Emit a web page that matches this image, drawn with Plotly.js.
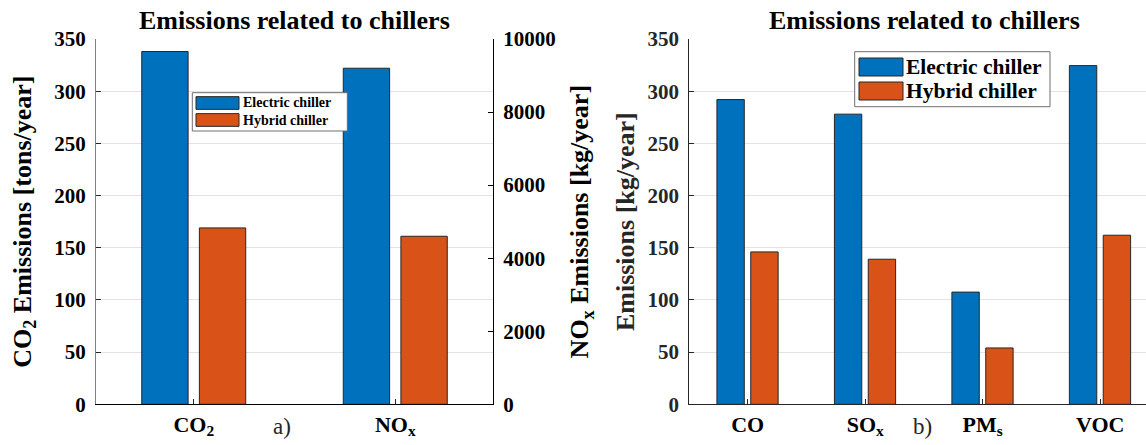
<!DOCTYPE html>
<html>
<head>
<meta charset="utf-8">
<script src="https://cdn.plot.ly/plotly-3.0.1.min.js"></script>
<style>html,body{margin:0;padding:0;background:#fff;}#chart{width:1146px;height:445px;}</style>
</head>
<body>
<div id="chart"></div>
<script>
// ---- data ----
const seriesNames = ['Electric chiller', 'Hybrid chiller'];
const seriesColors = ['#0072BD', '#D95319'];

// panel a): CO2 on left axis [tons/year], NOx on right axis [kg/year]
const categoriesA = ['CO<sub>2</sub>', 'NO<sub>x</sub>'];
const electricA = [338, 9200];
const hybridA = [169, 4600];

// panel b): [kg/year]
const categoriesB = ['CO', 'SO<sub>x</sub>', 'PM<sub>s</sub>', 'VOC'];
const electricB = [292, 278, 107.5, 324.5];
const hybridB = [146, 139, 54, 162];

const ticksLeftA = [0, 50, 100, 150, 200, 250, 300, 350];
const ticksRightA = [0, 2000, 4000, 6000, 8000, 10000];
const ticksB = [0, 50, 100, 150, 200, 250, 300, 350];

// ---- layout helpers ----
const W = 1146, H = 445;
const px = v => v / W;
const py = v => 1 - v / H;
const FONT = '"Liberation Serif", "Times New Roman", Times, serif';
const yTickFont = {family: FONT, size: 21, color: '#000', weight: 'bold'};
const xTickFont = {family: FONT, size: 22, color: '#000', weight: 'bold'};
const titleFont = {family: FONT, size: 26, color: '#000', weight: 'bold'};
const edge = {color: '#262626', width: 1};

const traces = [
  {type: 'bar', name: seriesNames[0], x: [categoriesA[0]], y: [electricA[0]], xaxis: 'x', yaxis: 'y',
   marker: {color: seriesColors[0], line: edge}, width: 0.23, offset: -0.258, showlegend: false},
  {type: 'bar', name: seriesNames[1], x: [categoriesA[0]], y: [hybridA[0]], xaxis: 'x', yaxis: 'y',
   marker: {color: seriesColors[1], line: edge}, width: 0.23, offset: 0.028, showlegend: false},
  {type: 'bar', name: seriesNames[0], x: [categoriesA[1]], y: [electricA[1]], xaxis: 'x', yaxis: 'y2',
   marker: {color: seriesColors[0], line: edge}, width: 0.23, offset: -0.258, showlegend: false},
  {type: 'bar', name: seriesNames[1], x: [categoriesA[1]], y: [hybridA[1]], xaxis: 'x', yaxis: 'y2',
   marker: {color: seriesColors[1], line: edge}, width: 0.23, offset: 0.028, showlegend: false},
  {type: 'bar', name: seriesNames[0], x: categoriesB, y: electricB, xaxis: 'x2', yaxis: 'y3',
   marker: {color: seriesColors[0], line: edge}, width: 0.233, offset: -0.262, showlegend: false},
  {type: 'bar', name: seriesNames[1], x: categoriesB, y: hybridB, xaxis: 'x2', yaxis: 'y3',
   marker: {color: seriesColors[1], line: edge}, width: 0.233, offset: 0.026, showlegend: false}
];

const yDom = [py(404.3), py(39)];
const xDomA = [px(96), px(493)];
const xDomB = [px(689.3), 1];
const rangeA = [-0.485, 1.485];
const rangeB = [-0.497, 3.39];

function legend(x0, y0, w, h, sw, swH, rowC, textX, fs) {
  const shapes = [{type: 'rect', xref: 'paper', yref: 'paper', x0: px(x0), x1: px(x0 + w), y0: py(y0 + h), y1: py(y0),
    line: {color: '#6e6e6e', width: 1}, fillcolor: '#fff'}];
  const ann = [];
  seriesNames.forEach((n, i) => {
    shapes.push({type: 'rect', xref: 'paper', yref: 'paper', x0: px(sw[0]), x1: px(sw[1]),
      y0: py(rowC[i] + swH / 2), y1: py(rowC[i] - swH / 2), line: {color: '#262626', width: 1}, fillcolor: seriesColors[i]});
    ann.push({xref: 'paper', yref: 'paper', x: px(textX), y: py(rowC[i]), xanchor: 'left', yanchor: 'middle',
      text: n, showarrow: false, font: {family: FONT, size: fs, color: '#000', weight: 'bold'}});
  });
  return {shapes, ann};
}
const legA = legend(192.3, 92.7, 155, 38.3, [196, 239], 12.7, [103, 120], 240.5, 14);
const legB = legend(854.7, 51.7, 195.3, 55, [859, 903], 18, [67, 91], 903.5, 21.5);

const layout = {
  width: W, height: H,
  margin: {l: 0, r: 0, t: 0, b: 0},
  paper_bgcolor: '#fff', plot_bgcolor: '#fff',
  barmode: 'overlay',
  showlegend: false,
  font: {family: FONT, color: '#000'},
  xaxis: {domain: xDomA, anchor: 'y', type: 'category', categoryorder: 'array', categoryarray: categoriesA,
    range: rangeA, ticks: 'inside', ticklen: 5, tickcolor: '#262626', showline: true, linecolor: '#000', linewidth: 1,
    showgrid: false, zeroline: false, tickfont: xTickFont, ticklabelstandoff: 0},
  xaxis3: {overlaying: 'x', side: 'top', anchor: 'y', range: rangeA, tickvals: [0, 1], ticks: 'inside', ticklen: 5,
    tickcolor: '#262626', showticklabels: false, showline: true, linecolor: '#a0a0a0', showgrid: false, zeroline: false},
  yaxis: {domain: yDom, anchor: 'x', range: [0, 350], tickvals: ticksLeftA, ticks: 'inside', ticklen: 5,
    tickcolor: '#262626', showline: true, linecolor: '#808080', showgrid: true, gridcolor: '#e3e3e3', zeroline: false,
    tickfont: yTickFont, ticklabelstandoff: 5,
    title: {text: 'CO<sub>2</sub> Emissions [tons/year]', font: titleFont, standoff: 15}},
  yaxis2: {overlaying: 'y', side: 'right', anchor: 'x', range: [0, 10000], tickvals: ticksRightA, tickformat: 'd',
    ticks: 'inside', ticklen: 5, tickcolor: '#000', showline: true, linecolor: '#000', showgrid: false, zeroline: false,
    tickfont: yTickFont, ticklabelstandoff: 5,
    title: {text: 'NO<sub>x</sub> Emissions [kg/year]', font: titleFont, standoff: 15}},
  xaxis2: {domain: xDomB, anchor: 'y3', type: 'category', categoryorder: 'array', categoryarray: categoriesB,
    range: rangeB, ticks: 'inside', ticklen: 5, tickcolor: '#262626', showline: true, linecolor: '#262626', linewidth: 1,
    showgrid: false, zeroline: false, tickfont: xTickFont, ticklabelstandoff: 0},
  xaxis4: {overlaying: 'x2', side: 'top', anchor: 'y3', range: rangeB, tickvals: [0, 1, 2, 3], ticks: 'inside', ticklen: 5,
    tickcolor: '#262626', showticklabels: false, showline: true, linecolor: '#a0a0a0', showgrid: false, zeroline: false},
  yaxis3: {domain: yDom, anchor: 'x2', range: [0, 350], tickvals: ticksB, ticks: 'inside', ticklen: 5,
    tickcolor: '#262626', showline: true, linecolor: '#262626', showgrid: true, gridcolor: '#e3e3e3', zeroline: false,
    tickfont: Object.assign({}, yTickFont, {color: '#262626'}), ticklabelstandoff: 5,
    title: {text: 'Emissions [kg/year]', font: Object.assign({}, titleFont, {color: '#262626'}), standoff: 5}},
  shapes: [...legA.shapes, ...legB.shapes],
  annotations: [
    {xref: 'paper', yref: 'paper', x: px(294.5), y: py(20), xanchor: 'center', yanchor: 'middle', showarrow: false,
     text: 'Emissions related to chillers', font: {family: FONT, size: 26, color: '#000', weight: 'bold'}},
    {xref: 'paper', yref: 'paper', x: px(924), y: py(20), xanchor: 'center', yanchor: 'middle', showarrow: false,
     text: 'Emissions related to chillers', font: {family: FONT, size: 26, color: '#000', weight: 'bold'}},
    {xref: 'paper', yref: 'paper', x: px(282), y: py(426), xanchor: 'center', yanchor: 'middle', showarrow: false,
     text: 'a)', font: {family: FONT, size: 23, color: '#262626'}},
    {xref: 'paper', yref: 'paper', x: px(922.5), y: py(426), xanchor: 'center', yanchor: 'middle', showarrow: false,
     text: 'b)', font: {family: FONT, size: 23, color: '#262626'}},
    ...legA.ann, ...legB.ann
  ]
};

Plotly.newPlot('chart', traces, layout, {staticPlot: true, displayModeBar: false});
</script>
</body>
</html>
